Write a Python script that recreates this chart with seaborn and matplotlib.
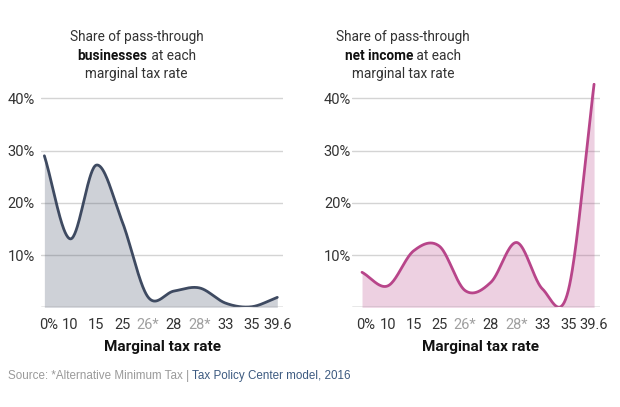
import numpy as np
import pandas as pd
import matplotlib
matplotlib.use("Agg")
import matplotlib.pyplot as plt
import seaborn as sns
from matplotlib import font_manager
from matplotlib.transforms import ScaledTranslation, blended_transform_factory

# ---- data ----
rate_labels = ["0%", "10", "15", "25", "26*", "28", "28*", "33", "35", "39.6"]
amt_flags = [False, False, False, False, True, False, True, False, False, False]
share_businesses = [29.0, 13.1, 27.2, 16.5, 2.0, 3.1, 3.7, 0.8, 0.1, 1.9]
share_net_income = [6.7, 4.1, 10.8, 11.7, 3.2, 4.8, 12.4, 3.5, 3.2, 42.7]
ytick_values = [10, 20, 30, 40]
source_note = "Source: *Alternative Minimum Tax | "
source_org = "Tax Policy Center model, 2016"

sns.set_theme(style="white")
names = {f.name for f in font_manager.fontManager.ttflist}
main_font = next((n for n in ["Roboto", "Lato", "DejaVu Sans"] if n in names), "DejaVu Sans")
plt.rcParams["font.family"] = [main_font, "DejaVu Sans"]

LINE_L, LINE_R = "#3e4a61", "#b8458a"


def smooth(vals, n=40):
    """Catmull-Rom rendering of the line through the data points."""
    y = np.asarray(vals, float)
    k = len(y)
    m = np.empty(k)
    m[1:-1] = (y[2:] - y[:-2]) / 2
    m[0] = y[1] - y[0]
    m[-1] = y[-1] - y[-2]
    xs, ys = [], []
    for i in range(k - 1):
        t = np.linspace(0, 1, n, endpoint=(i == k - 2))
        h00 = 2 * t**3 - 3 * t**2 + 1
        h10 = t**3 - 2 * t**2 + t
        h01 = -2 * t**3 + 3 * t**2
        h11 = t**3 - t**2
        xs.append(i + t)
        ys.append(h00 * y[i] + h10 * m[i] + h01 * y[i + 1] + h11 * m[i + 1])
    return np.concatenate(xs), np.concatenate(ys)


W, H = 620, 407
fig = plt.figure(figsize=(W / 100, H / 100), dpi=100)
base_y = 307.3
px_per_pct = 5.225
ytop = 43
ax_h = ytop * px_per_pct / H
axL = fig.add_axes([41 / W, (H - base_y) / H, 242 / W, ax_h])
axR = fig.add_axes([351.7 / W, (H - base_y) / H, 248.3 / W, ax_h])

specs = [
    (axL, share_businesses, LINE_L, (-0.13, 9.22), 4.5),
    (axR, share_net_income, LINE_R, (-0.4, 9.23), 0.5),
]
for ax, vals, col, xl, ypad in specs:
    for v in ytick_values:
        ax.axhline(v, color="#d4d4d4", lw=1, zorder=0)
    xs, ys = smooth(vals)
    ax.fill_between(xs, ys, 0, color=col, alpha=0.25, lw=0, zorder=1)
    df = pd.DataFrame({"x": xs, "y": ys})
    sns.lineplot(data=df, x="x", y="y", ax=ax, color=col, lw=2, estimator=None,
                 sort=False, zorder=3)
    ax.axhline(0, color="#8c8c8c", lw=1, zorder=4)
    ax.set_xlim(*xl)
    ax.set_ylim(0, ytop)
    for s in ax.spines.values():
        s.set_visible(False)
    ax.set_xlabel("")
    ax.set_ylabel("")
    ax.set_yticks(ytick_values)
    ax.set_yticklabels([f"{v}%" for v in ytick_values])
    ax.set_xticks(range(len(rate_labels)))
    ax.set_xticklabels(rate_labels)
    ax.tick_params(axis="y", length=0, pad=ypad, labelsize=10.5, labelcolor="#333333")
    ax.tick_params(axis="x", length=0, pad=8, labelsize=10.5, labelcolor="#333333")
    for lab, star in zip(ax.get_xticklabels(), amt_flags):
        if star:
            lab.set_color("#a0a0a0")
    first = ax.get_xticklabels()[0]
    first.set_transform(first.get_transform() + ScaledTranslation(4 / 100, 0, fig.dpi_scale_trans))
    ax.set_facecolor("none")

    # axis title, centred on the tick-label run
    tr = blended_transform_factory(ax.transData, fig.transFigure) + ScaledTranslation(2 / 100, 0, fig.dpi_scale_trans)
    ax.text((len(rate_labels) - 1) / 2, 1 - 346.7 / H, "Marginal tax rate", transform=tr,
            ha="center", va="center", fontsize=11, fontweight="bold", color="#111111")

fig.canvas.draw()
rend = fig.canvas.get_renderer()


def mixed_line(xc_px, base_px, parts, size):
    texts = []
    for s, w, c in parts:
        t = fig.text(0, 1 - base_px / H, s, fontsize=size, fontweight=w, color=c, va="baseline", ha="left")
        texts.append(t)
    widths = [t.get_window_extent(rend).width for t in texts]
    x = xc_px - sum(widths) / 2
    for t, w in zip(texts, widths):
        t.set_x(x / W)
        x += w


TS = 9.8
for xc, bold in [(136.7, "businesses"), (403, "net income")]:
    mixed_line(xc, 41, [("Share of pass-through", "normal", "#333333")], TS)
    mixed_line(xc, 59.5, [(bold, "bold", "#111111"), (" at each", "normal", "#333333")], TS)
    mixed_line(xc, 78, [("marginal tax rate", "normal", "#333333")], TS)

# source line
t1 = fig.text(8 / W, 1 - 379.5 / H, source_note, fontsize=8.4, color="#9a9a9a", va="baseline",
              family=["Liberation Sans", "DejaVu Sans"])
w1 = t1.get_window_extent(rend).width
fig.text((8 + w1) / W, 1 - 379.5 / H, source_org, fontsize=8.4, color="#3c5a80", va="baseline",
         family=["Liberation Sans", "DejaVu Sans"])

fig.savefig("out.png", dpi=100)
